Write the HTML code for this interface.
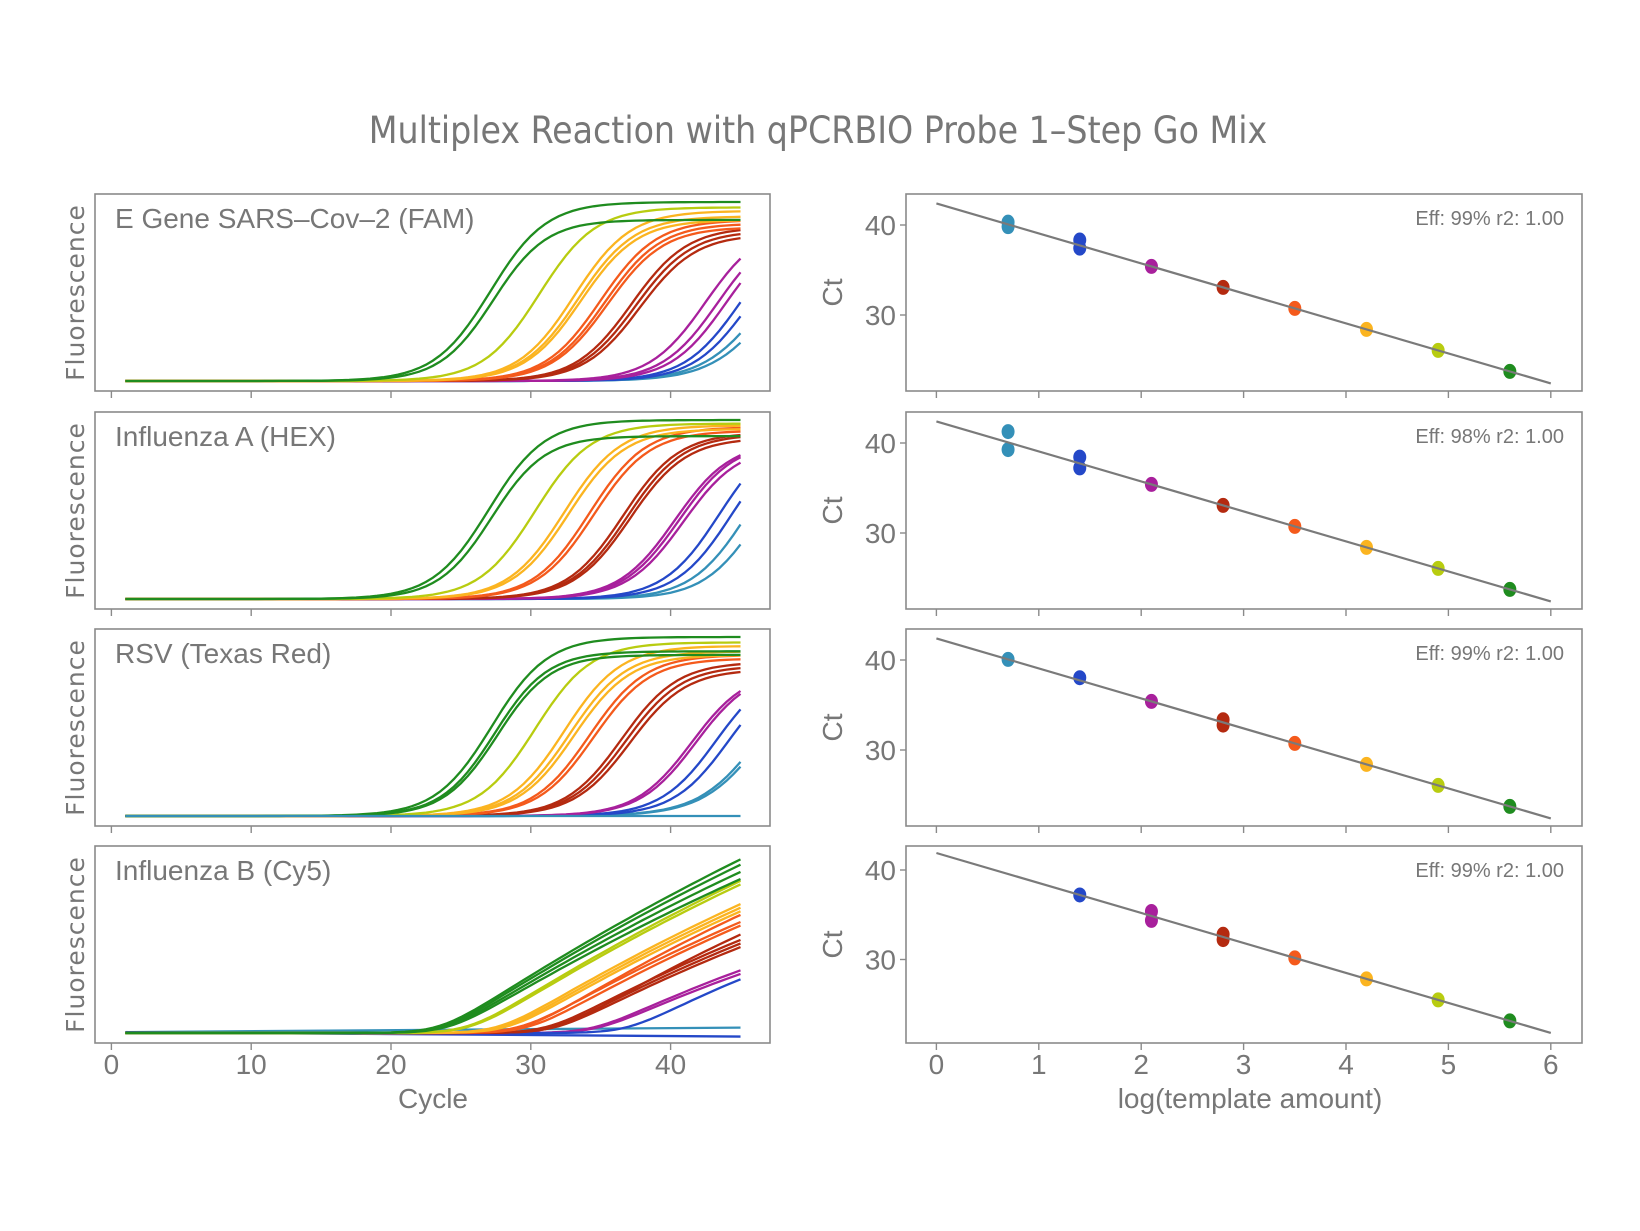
<!DOCTYPE html>
<html><head><meta charset="utf-8"><style>
html,body{margin:0;padding:0;background:#fff}
svg{display:block}
text{font-family:"Liberation Sans Narrow","Liberation Sans",sans-serif;fill:#777}
</style></head><body>
<svg id="s" width="1640" height="1231" xmlns="http://www.w3.org/2000/svg">
<text x="818" y="143" text-anchor="middle" style="font-family:'DejaVu Sans Condensed','DejaVu Sans',sans-serif" font-size="37">Multiplex Reaction with qPCRBIO Probe 1–Step Go Mix</text>
</svg>
<script>
const S=document.getElementById('s'),NS='http://www.w3.org/2000/svg';
function el(t,a,txt){const e=document.createElementNS(NS,t);for(const k in a)e.setAttribute(k,a[k]);if(txt!==undefined)e.textContent=txt;S.appendChild(e);return e;}
const C={g:'#1f8c1f',y:'#b8cc10',o:'#fbb420',r:'#f45a1c',d:'#b42a10',m:'#a8209c',b:'#2448c8',t:'#3490b8'};
const tops=[194,412,629,846],H=197,LX=95,LW=675,RX=906,RW=676;
const titles=['E Gene SARS–Cov–2 (FAM)','Influenza A (HEX)','RSV (Texas Red)','Influenza B (Cy5)'];
const effs=['Eff: 99% r2: 1.00','Eff: 98% r2: 1.00','Eff: 99% r2: 1.00','Eff: 99% r2: 1.00'];
const cx=c=>111.4+c*13.98;
const P=[
[['t',46.9,0.9,2.2],['t',47.4,0.85,2.2],['b',45,0.88,2],['b',45.6,0.85,2],['m',42.5,0.88,2],['m',43.4,0.88,2],['m',44,0.88,2],
 ['d',37.2,0.86,2],['d',37.5,0.84,2],['d',37.8,0.82,2],['r',35,0.9,2],['r',35.3,0.88,2],['r',35.5,0.86,2],
 ['o',33.1,0.95,2],['o',33.4,0.92,2],['o',33.6,0.9,2],['y',30.6,0.97,2],['g',27.1,1.0,2],['g',27.3,0.9,1.9]],
[['t',45.5,0.95,2],['t',46.5,0.95,2],['b',43.5,0.95,2],['b',44.4,0.95,2],['m',40.3,0.88,2],['m',40.6,0.88,2],['m',40.9,0.86,2],
 ['d',36.6,0.93,2],['d',36.9,0.92,2],['d',37.1,0.9,2],['r',34.2,0.96,2],['r',34.5,0.94,2],
 ['o',32.4,0.97,2],['o',32.7,0.95,2],['y',30.3,0.98,2],['g',27,1.0,2],['g',27.2,0.91,1.9]],
[['t',46.5,0.9,2.2],['t',46.8,0.9,2.2],['b',43.3,0.85,2],['b',44.2,0.85,2],['m',41.5,0.82,2],['m',41.8,0.82,2],
 ['d',36.5,0.86,2],['d',36.8,0.84,2],['d',37.1,0.82,2],['r',34.2,0.9,2],['r',34.5,0.88,2],
 ['o',32.4,0.95,2],['o',32.8,0.92,2],['o',33.1,0.9,2],['y',30.3,0.97,2],['g',27.2,1.0,2],['g',27.4,0.92,1.9],['g',27.6,0.9,1.9]]
];
const P4=[['m',34.5,0.35],['m',34.8,0.33],['b',37,0.3],['d',31.2,0.52],['d',31.5,0.5],['d',31.8,0.48],['d',32,0.55],
['r',29.3,0.62],['r',29.6,0.66],['r',29.9,0.6],['o',27.8,0.72],['o',28.1,0.7],['o',28.4,0.68],['y',25.6,0.85],['y',25.8,0.83],
['g',23.6,0.97],['g',23.8,0.94],['g',24,0.9],['g',24.2,0.86]];
const sp=x=>x>30?x:Math.log(1+Math.exp(x));
const rx=v=>936.4+v*102.4;
for(let i=0;i<4;i++){
  const T=tops[i],base=T+H-10,rng=H-18;
  const fy=f=>base-f*rng;
  el('rect',{x:LX,y:T,width:LW,height:H,fill:'none',stroke:'#8a8a8a','stroke-width':1.6});
  for(let k=0;k<=4;k++){const x=cx(k*10);el('line',{x1:x,x2:x,y1:T+H,y2:T+H+7,stroke:'#8a8a8a','stroke-width':1.4});}
  el('text',{x:115,y:T+34,'font-size':28},titles[i]);
  el('text',{x:0,y:0,'text-anchor':'middle',transform:`translate(84,${T+H/2}) rotate(-90)`,style:'font-family:"DejaVu Sans",sans-serif;letter-spacing:1px','font-size':25},'Fluorescence');
  if(i<3){
    for(const [c,m,a,s] of P[i]){let d='';for(let q=1;q<=45;q+=0.5){const f=a/(1+Math.exp(-(q-m)/s));d+=(q==1?'M':'L')+cx(q).toFixed(1)+','+fy(f).toFixed(1);}
      el('path',{d,fill:'none',stroke:C[c],'stroke-width':2.3});}
    if(i==2){el('path',{d:`M${cx(1)},${fy(0)}L${cx(45)},${fy(0)}`,stroke:C.t,'stroke-width':2.3});}
  } else {
    el('path',{d:`M${cx(1)},${fy(0.005)}L${cx(45)},${fy(0.03)}`,stroke:C.t,'stroke-width':2.3,fill:'none'});
    el('path',{d:`M${cx(1)},${fy(0.005)}L${cx(45)},${fy(-0.02)}`,stroke:C.b,'stroke-width':2.3,fill:'none'});
    for(const [c,o,e] of P4){const k=e/(45-o);let d='';for(let q=1;q<=45;q+=0.5){let f=k*1.2*sp((q-o)/1.2);f=f*(1.15-0.15*f/e);d+=(q==1?'M':'L')+cx(q).toFixed(1)+','+fy(f).toFixed(1);}
      el('path',{d,fill:'none',stroke:C[c],'stroke-width':2.3});}
  }
  el('rect',{x:RX,y:T,width:RW,height:H,fill:'none',stroke:'#8a8a8a','stroke-width':1.6});
  const o40=i<3?31:24,sc=i<3?9.0:8.95;
  const ry=ct=>T+o40+(40-ct)*sc;
  for(let k=0;k<=6;k++){el('line',{x1:rx(k),x2:rx(k),y1:T+H,y2:T+H+7,stroke:'#8a8a8a','stroke-width':1.4});}
  for(const v of [30,40]){el('line',{x1:RX-6,x2:RX,y1:ry(v),y2:ry(v),stroke:'#8a8a8a','stroke-width':1.4});
    el('text',{x:RX-10,y:ry(v)+10,'font-size':28,'text-anchor':'end'},v);}
  el('text',{x:0,y:0,'font-size':28,'text-anchor':'middle',transform:`translate(842,${T+H/2}) rotate(-90)`},'Ct');
  el('text',{x:1564,y:T+31,'font-size':20,'text-anchor':'end'},effs[i]);
  const a0=i<3?42.4:41.9,a6=i<3?22.4:21.8;
  const line=v=>a0+(a6-a0)*v/6;
  const cols=['t','b','m','d','r','o','y','g'];
  const pts=[[[0.25,-0.25],[0.6,-0.3],[0],[0],[0],[0],[0],[0]],[[1.2,-0.8],[0.7,-0.5],[0],[0],[0],[0],[0],[0]],[[0],[0.3],[0],[0.3,-0.3],[0],[0],[0],[0]],[null,[0],[0.5,-0.5],[0.3,-0.3],[0],[0],[0],[0]]][i];
  cols.forEach((c,j)=>{const v=0.7*(j+1);if(!pts[j])return;for(const dv of pts[j])el('ellipse',{cx:rx(v),cy:ry(line(v)+dv),rx:6.5,ry:7.5,fill:C[c]});});
  el('path',{d:`M${rx(0)},${ry(a0)}L${rx(6)},${ry(a6)}`,stroke:'#7a7a7a','stroke-width':2.2});
  if(i==3){
    for(let k=0;k<=4;k++)el('text',{x:cx(k*10),y:1074,'font-size':28,'text-anchor':'middle'},k*10);
    for(let k=0;k<=6;k++)el('text',{x:rx(k),y:1074,'font-size':28,'text-anchor':'middle'},k);
  }
}
el('text',{x:433,y:1108,'font-size':28,'text-anchor':'middle'},'Cycle');
el('text',{x:1250,y:1108,'font-size':28,'text-anchor':'middle'},'log(template amount)');
</script>
</body></html>
